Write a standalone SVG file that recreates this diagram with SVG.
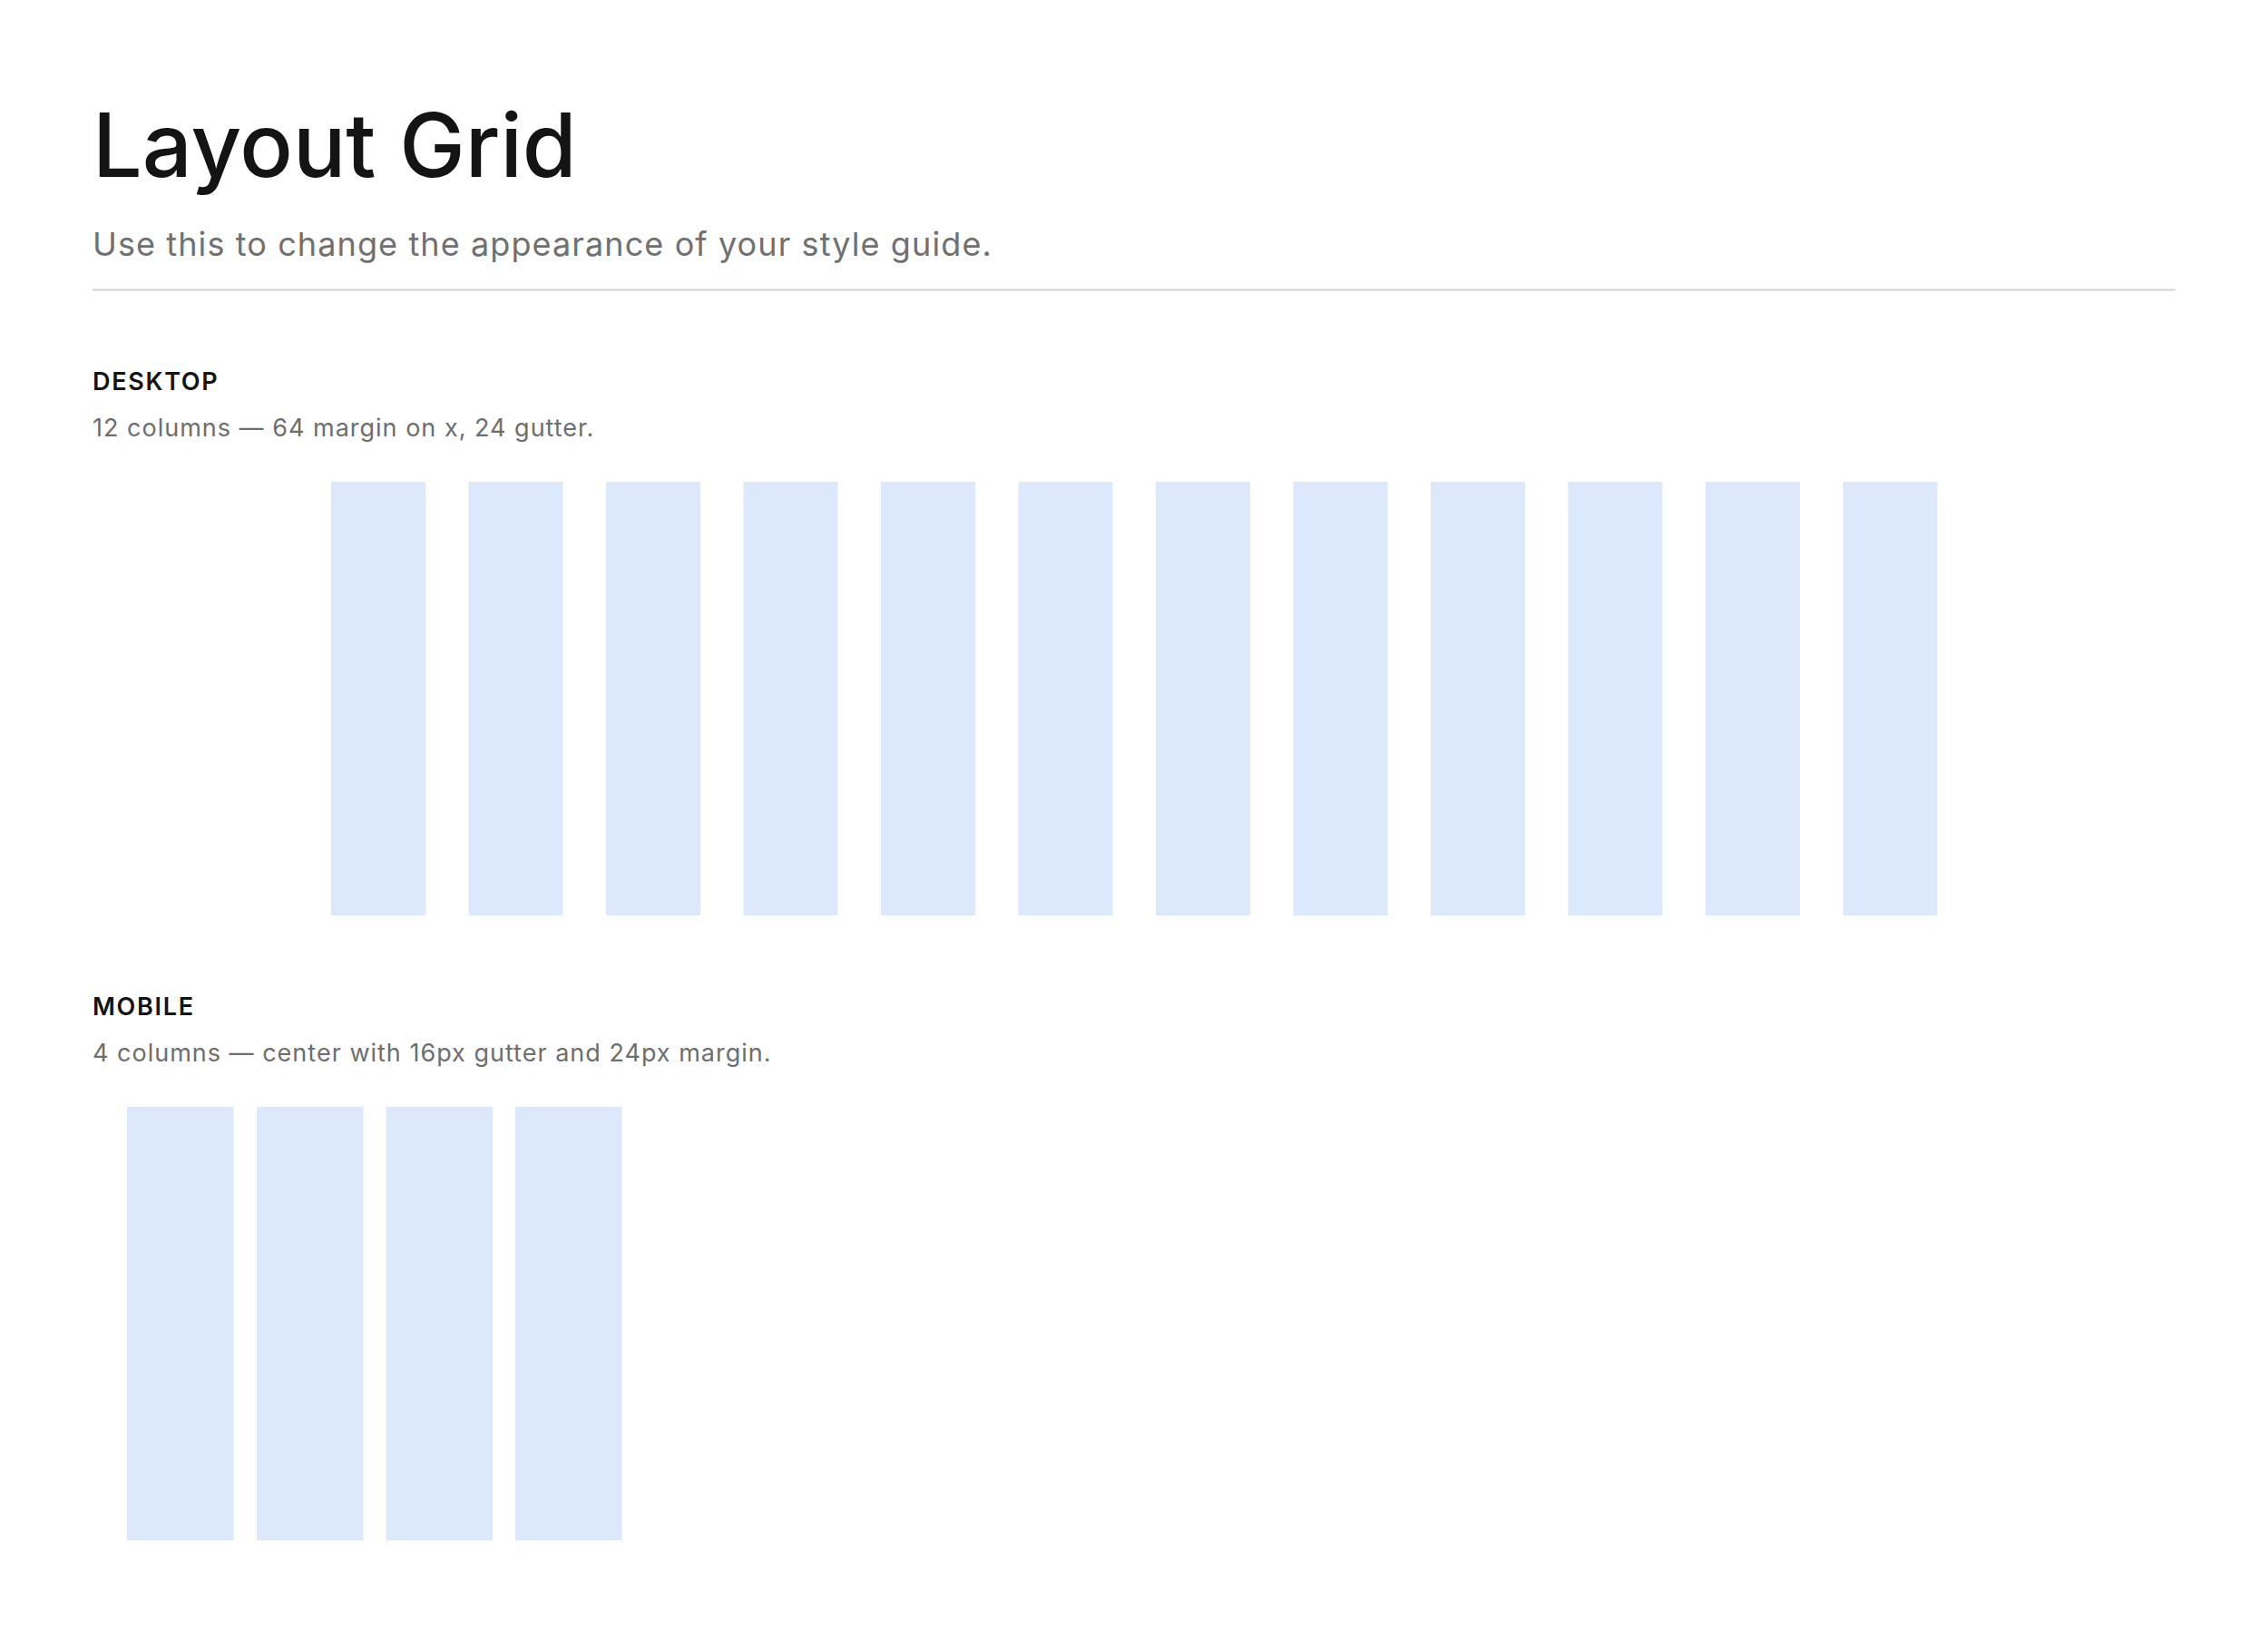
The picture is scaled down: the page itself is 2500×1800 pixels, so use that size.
<svg xmlns="http://www.w3.org/2000/svg" width="2500" height="1800" viewBox="0 0 2500 1800">
<style>
text{font-family:Inter,"Noto Sans","Liberation Sans",sans-serif}
.title{font-size:97px;font-weight:500;fill:#141414}
.sub{font-size:36px;fill:#707070;letter-spacing:1.1px}
.h{font-size:27px;font-weight:600;fill:#141414;letter-spacing:1.7px}
.d{font-size:27px;fill:#6e6e6e;letter-spacing:1px}
.col{fill:#dce9fd}
</style>
<rect width="2500" height="1800" fill="#ffffff"/>
<g id="header">
<text class="title" x="102" y="195">Layout Grid</text>
<text class="sub" x="102" y="282">Use this to change the appearance of your style guide.</text>
<line x1="102" y1="319.5" x2="2398" y2="319.5" stroke="#d2d2d2" stroke-width="2"/>
</g>
<g id="desktop">
<text class="h" x="102" y="430">DESKTOP</text>
<text class="d" x="102" y="481">12 columns — 64 margin on x, 24 gutter.</text>
<g id="desktop-columns">
<rect class="col" x="365" y="531" width="104" height="478"/>
<rect class="col" x="516.5" y="531" width="104" height="478"/>
<rect class="col" x="668" y="531" width="104" height="478"/>
<rect class="col" x="819.5" y="531" width="104" height="478"/>
<rect class="col" x="971" y="531" width="104" height="478"/>
<rect class="col" x="1122.5" y="531" width="104" height="478"/>
<rect class="col" x="1274" y="531" width="104" height="478"/>
<rect class="col" x="1425.5" y="531" width="104" height="478"/>
<rect class="col" x="1577" y="531" width="104" height="478"/>
<rect class="col" x="1728.5" y="531" width="104" height="478"/>
<rect class="col" x="1880" y="531" width="104" height="478"/>
<rect class="col" x="2031.5" y="531" width="104" height="478"/>
</g>
</g>
<g id="mobile">
<text class="h" x="102" y="1119">MOBILE</text>
<text class="d" x="102" y="1170">4 columns — center with 16px gutter and 24px margin.</text>
<g id="mobile-columns">
<rect class="col" x="140" y="1220" width="117.5" height="478"/>
<rect class="col" x="283" y="1220" width="117.5" height="478"/>
<rect class="col" x="425.5" y="1220" width="117.5" height="478"/>
<rect class="col" x="568" y="1220" width="117.5" height="478"/>
</g>
</g>
</svg>
